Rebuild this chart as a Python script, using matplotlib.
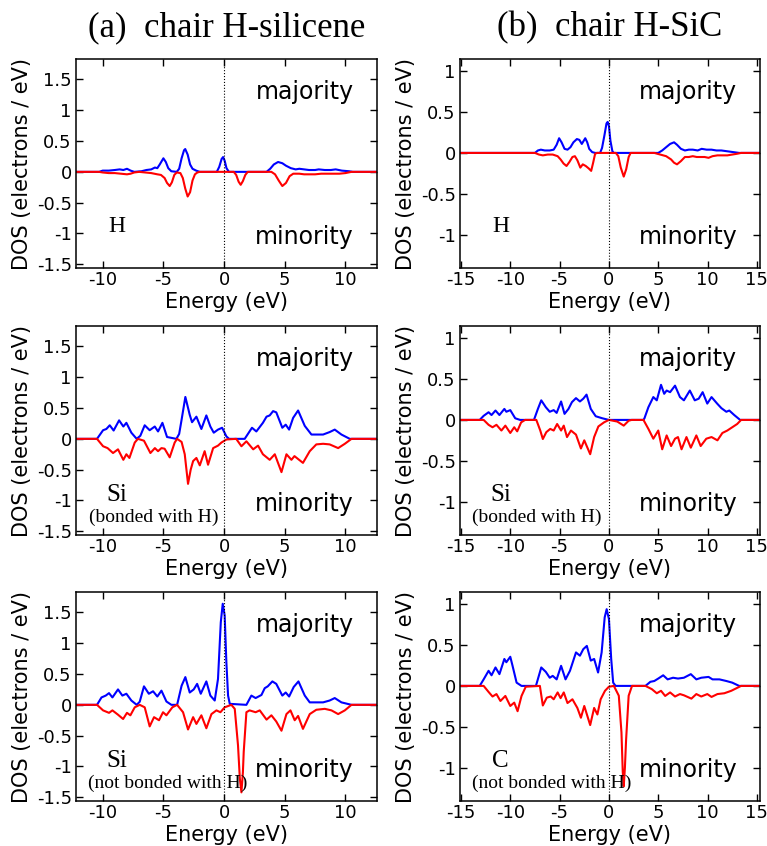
import matplotlib

matplotlib.use("Agg")
import matplotlib.pyplot as plt
from matplotlib.ticker import FormatStrFormatter

# ---- DOS data: (energy eV, DOS) points ----
# (a) chair H-silicene, H
sil_h_up = [(-12.2, 0), (-10.3, 0), (-10.0, 0.02), (-9.5, 0.02), (-9.0, 0.03), (-8.6, 0.04), (-8.3, 0.03),
            (-8.0, 0.05), (-7.7, 0.02), (-7.4, 0.0), (-6.8, 0.01), (-6.4, 0.03), (-6.0, 0.04), (-5.7, 0.07),
            (-5.5, 0.06), (-5.3, 0.12), (-5.0, 0.22), (-4.8, 0.16), (-4.6, 0.06), (-4.35, 0.01), (-3.9, 0.0),
            (-3.7, 0.05), (-3.5, 0.22), (-3.3, 0.35), (-3.2, 0.37), (-3.0, 0.28), (-2.8, 0.12), (-2.6, 0.05),
            (-2.3, 0.02), (-2.0, 0.0), (-0.6, 0.0), (-0.4, 0.08), (-0.2, 0.21), (-0.08, 0.24), (0.05, 0.18),
            (0.2, 0.06), (0.4, 0.0), (3.5, 0.0), (3.8, 0.05), (4.1, 0.12), (4.45, 0.16), (4.8, 0.14),
            (5.1, 0.10), (5.5, 0.06), (5.9, 0.04), (6.2, 0.05), (6.6, 0.04), (7.0, 0.03), (7.5, 0.03),
            (7.8, 0.04), (8.3, 0.03), (8.8, 0.03), (9.2, 0.04), (9.7, 0.02), (10.3, 0.01), (10.6, 0), (12.6, 0)]
sil_h_dn = [(-12.2, 0), (-10.3, 0), (-10.0, -0.01), (-9.5, -0.02), (-9.0, -0.02), (-8.5, -0.03), (-8.0, -0.04),
            (-7.7, -0.03), (-7.4, -0.01), (-7.0, 0.0), (-6.5, -0.01), (-6.0, -0.02), (-5.5, -0.04), (-5.2, -0.05),
            (-4.9, -0.10), (-4.7, -0.18), (-4.48, -0.23), (-4.3, -0.17), (-4.1, -0.05), (-3.9, -0.01),
            (-3.6, -0.02), (-3.4, -0.10), (-3.2, -0.27), (-3.0, -0.40), (-2.8, -0.33), (-2.6, -0.14),
            (-2.4, -0.04), (-2.2, -0.01), (-2.0, 0), (0.8, 0), (1.0, -0.05), (1.2, -0.16), (1.37, -0.21),
            (1.55, -0.15), (1.75, -0.05), (1.95, 0), (3.9, 0), (4.2, -0.04), (4.5, -0.14), (4.8, -0.23),
            (5.1, -0.18), (5.4, -0.07), (5.7, -0.03), (6.2, -0.03), (6.6, -0.04), (7.0, -0.04), (7.5, -0.04),
            (8.0, -0.03), (8.5, -0.03), (9.0, -0.03), (9.5, -0.03), (10.0, -0.02), (10.5, 0), (12.6, 0)]

# (b) chair H-SiC, H
sic_h_up = [(-15.3, 0), (-7.5, 0), (-7.2, 0.03), (-6.9, 0.04), (-6.5, 0.03), (-6.0, 0.03), (-5.6, 0.04),
            (-5.3, 0.10), (-5.05, 0.18), (-4.8, 0.13), (-4.5, 0.05), (-4.2, 0.04), (-3.9, 0.07), (-3.6, 0.13),
            (-3.25, 0.17), (-3.0, 0.16), (-2.75, 0.11), (-2.55, 0.15), (-2.4, 0.18), (-2.2, 0.13), (-2.0, 0.05),
            (-1.7, 0.01), (-1.4, 0.0), (-0.9, 0.0), (-0.7, 0.06), (-0.45, 0.22), (-0.25, 0.36), (-0.13, 0.38),
            (0.0, 0.33), (0.15, 0.15), (0.35, 0.02), (0.5, 0), (5.0, 0), (5.4, 0.03), (5.8, 0.07), (6.2, 0.11),
            (6.6, 0.13), (6.9, 0.10), (7.3, 0.05), (7.7, 0.03), (8.1, 0.04), (8.5, 0.04), (9.0, 0.03),
            (9.4, 0.05), (9.9, 0.04), (10.4, 0.04), (10.9, 0.03), (11.4, 0.03), (12.0, 0.02), (12.6, 0.01),
            (13.2, 0.0), (15.3, 0)]
sic_h_dn = [(-15.3, 0), (-7.5, 0), (-7.1, -0.02), (-6.7, -0.03), (-6.2, -0.02), (-5.7, -0.02), (-5.2, -0.04),
            (-4.9, -0.08), (-4.6, -0.13), (-4.3, -0.16), (-4.0, -0.11), (-3.7, -0.05), (-3.45, -0.04),
            (-3.2, -0.09), (-2.9, -0.18), (-2.65, -0.14), (-2.35, -0.16), (-2.05, -0.19), (-1.8, -0.22),
            (-1.6, -0.12), (-1.4, -0.01), (-1.2, 0), (0.7, 0), (0.95, -0.04), (1.2, -0.18), (1.5, -0.29),
            (1.75, -0.20), (2.0, -0.05), (2.2, 0), (4.6, 0), (5.2, -0.02), (5.8, -0.04), (6.3, -0.08),
            (6.6, -0.12), (6.9, -0.14), (7.3, -0.10), (7.7, -0.05), (8.1, -0.05), (8.5, -0.04), (8.9, -0.05),
            (9.3, -0.05), (9.7, -0.05), (10.1, -0.06), (10.5, -0.04), (11.0, -0.03), (11.5, -0.03),
            (12.0, -0.03), (12.5, -0.02), (13.0, -0.01), (13.4, 0), (15.3, 0)]

# (a) Si bonded with H
sil_si1_up = [(-12.2, 0), (-10.47, 0), (-9.97, 0.14), (-9.7, 0.16), (-9.42, 0.22), (-9.1, 0.135), (-8.65, 0.30),
              (-8.3, 0.20), (-8.05, 0.26), (-7.64, 0.10), (-7.2, 0), (-6.9, 0.05), (-6.54, 0.22), (-6.13, 0.14),
              (-5.71, 0.20), (-5.44, 0.12), (-5.08, 0.26), (-4.7, 0.03), (-3.93, 0), (-3.7, 0.08), (-3.5, 0.31),
              (-3.19, 0.68), (-2.83, 0.39), (-2.64, 0.27), (-2.28, 0.36), (-1.87, 0.16), (-1.46, 0.38),
              (-1.13, 0.20), (-0.85, 0.10), (-0.5, 0.15), (-0.16, 0.18), (0.19, 0.04), (0.41, 0), (1.7, 0),
              (2.0, 0.09), (2.3, 0.18), (2.66, 0.12), (3.2, 0.26), (3.5, 0.36), (3.76, 0.38), (4.04, 0.45),
              (4.3, 0.43), (4.8, 0.18), (5.08, 0.23), (5.36, 0.15), (5.69, 0.34), (6.1, 0.46), (6.65, 0.21),
              (7.2, 0.07), (8.16, 0.07), (8.7, 0.11), (9.12, 0.15), (9.67, 0.07), (10.36, 0), (12.6, 0)]
sil_si1_dn = [(-12.2, 0), (-10.47, 0), (-9.97, -0.12), (-9.6, -0.15), (-9.15, -0.23), (-8.74, -0.17),
              (-8.3, -0.34), (-8.05, -0.25), (-7.8, -0.31), (-7.36, -0.06), (-7.1, 0), (-6.6, -0.03),
              (-6.07, -0.23), (-5.7, -0.15), (-5.44, -0.20), (-5.16, -0.15), (-4.9, -0.16), (-4.48, -0.30),
              (-4.07, -0.06), (-3.87, 0), (-3.5, -0.05), (-3.24, -0.25), (-2.97, -0.73), (-2.75, -0.50),
              (-2.55, -0.36), (-2.28, -0.31), (-2.0, -0.43), (-1.6, -0.20), (-1.32, -0.42), (-0.9, -0.15),
              (-0.5, -0.11), (-0.22, -0.06), (0.2, -0.01), (1.0, 0), (1.43, -0.12), (1.84, -0.04),
              (2.4, -0.17), (2.8, -0.11), (3.2, -0.25), (3.76, -0.34), (4.18, -0.25), (4.73, -0.54),
              (5.14, -0.25), (5.55, -0.34), (5.8, -0.28), (6.5, -0.39), (7.06, -0.20), (7.6, -0.09),
              (8.16, -0.08), (8.7, -0.09), (9.4, -0.15), (9.95, -0.08), (10.5, 0), (12.6, 0)]

# (b) Si bonded with H
sic_si_up = [(-15.3, 0), (-13.1, 0), (-12.7, 0.05), (-12.2, 0.094), (-11.9, 0.06), (-11.5, 0.115), (-11.1, 0.06),
             (-10.6, 0.135), (-10.4, 0.10), (-10.0, 0.12), (-9.5, 0.02), (-9.0, 0), (-7.6, 0), (-7.2, 0.135),
             (-6.86, 0.24), (-6.4, 0.156), (-6.0, 0.10), (-5.6, 0.12), (-5.3, 0.086), (-4.85, 0.226),
             (-4.5, 0.074), (-4.1, 0.135), (-3.75, 0.218), (-3.34, 0.267), (-2.94, 0.226), (-2.6, 0.26),
             (-2.27, 0.31), (-1.84, 0.135), (-1.34, 0.045), (-0.67, 0.02), (0, 0), (3.5, 0), (3.6, 0.02),
             (4.0, 0.156), (4.5, 0.28), (4.85, 0.24), (5.28, 0.43), (5.6, 0.32), (5.85, 0.36), (6.2, 0.34),
             (6.7, 0.42), (7.2, 0.28), (7.6, 0.24), (8.2, 0.36), (8.7, 0.24), (9.1, 0.26), (9.5, 0.34),
             (9.97, 0.20), (10.4, 0.28), (10.97, 0.20), (11.4, 0.144), (11.9, 0.10), (12.2, 0.115),
             (12.7, 0.06), (13.3, 0), (15.3, 0)]
sic_si_dn = [(-15.3, 0), (-12.7, 0), (-12.2, -0.06), (-11.8, -0.09), (-11.4, -0.06), (-10.9, -0.13),
             (-10.5, -0.07), (-10.0, -0.16), (-9.6, -0.09), (-9.3, -0.14), (-8.9, -0.03), (-8.5, 0),
             (-7.36, 0), (-6.96, -0.13), (-6.7, -0.234), (-6.35, -0.15), (-5.95, -0.11), (-5.6, -0.13),
             (-5.25, -0.05), (-4.85, -0.13), (-4.58, -0.07), (-4.25, -0.21), (-3.85, -0.13), (-3.34, -0.18),
             (-2.84, -0.35), (-2.5, -0.25), (-1.9, -0.42), (-1.5, -0.21), (-1.07, -0.08), (-0.5, -0.03),
             (0, 0), (0.84, -0.02), (1.5, -0.07), (2.0, -0.01), (2.3, 0), (3.5, 0), (4.0, -0.11), (4.5, -0.23),
             (5.0, -0.13), (5.4, -0.36), (5.85, -0.19), (6.3, -0.32), (6.7, -0.23), (7.0, -0.21),
             (7.36, -0.36), (7.86, -0.21), (8.3, -0.34), (8.86, -0.19), (9.3, -0.32), (9.87, -0.23),
             (10.4, -0.21), (11.0, -0.25), (11.5, -0.16), (12.0, -0.13), (12.5, -0.09), (13.0, -0.05),
             (13.4, 0), (15.3, 0)]

# (a) Si not bonded with H
sil_si2_up = [(-12.2, 0), (-10.47, 0), (-10.1, 0.12), (-9.75, 0.15), (-9.48, 0.19), (-9.2, 0.12), (-8.74, 0.25),
              (-8.38, 0.15), (-8.05, 0.18), (-7.64, 0.07), (-7.2, 0), (-6.95, 0.05), (-6.6, 0.30), (-6.2, 0.18),
              (-5.85, 0.22), (-5.5, 0.135), (-5.16, 0.23), (-4.75, 0.054), (-4.34, 0), (-3.87, 0), (-3.5, 0.31),
              (-3.19, 0.45), (-2.83, 0.20), (-2.5, 0.25), (-2.22, 0.34), (-1.92, 0.18), (-1.46, 0.38),
              (-1.13, 0.15), (-0.77, 0.07), (-0.5, 0.42), (-0.27, 1.34), (-0.11, 1.64), (0.05, 1.45),
              (0.19, 0.69), (0.33, 0.15), (0.47, 0.016), (1.84, 0), (2.25, 0.15), (2.6, 0.11), (3.08, 0.16),
              (3.35, 0.27), (3.6, 0.30), (3.98, 0.38), (4.3, 0.34), (4.8, 0.15), (5.08, 0.20), (5.36, 0.135),
              (5.74, 0.29), (6.13, 0.38), (6.65, 0.15), (7.06, 0.04), (8.16, 0.04), (8.7, 0.07), (9.12, 0.11),
              (9.67, 0.04), (10.5, 0), (12.6, 0)]
sil_si2_dn = [(-12.2, 0), (-10.47, 0), (-9.97, -0.09), (-9.48, -0.13), (-9.2, -0.09), (-8.74, -0.16),
              (-8.32, -0.23), (-8.0, -0.13), (-7.72, -0.17), (-7.36, -0.04), (-6.95, 0), (-6.54, -0.04),
              (-6.13, -0.35), (-5.77, -0.20), (-5.36, -0.25), (-5.03, -0.12), (-4.75, -0.17), (-4.26, -0.04),
              (-3.87, 0), (-3.38, -0.12), (-2.97, -0.40), (-2.55, -0.20), (-2.28, -0.31), (-1.87, -0.17),
              (-1.46, -0.38), (-1.04, -0.15), (-0.63, -0.09), (-0.3, -0.12), (0.05, -0.04), (0.6, 0),
              (0.88, -0.065), (1.15, -0.66), (1.3, -1.2), (1.43, -1.42), (1.55, -1.1), (1.62, -0.76),
              (1.84, -0.12), (2.1, -0.09), (2.6, -0.12), (2.94, -0.09), (3.5, -0.24), (3.9, -0.17),
              (4.3, -0.27), (4.73, -0.42), (5.14, -0.15), (5.47, -0.09), (5.82, -0.25), (6.1, -0.18),
              (6.5, -0.39), (7.06, -0.15), (7.6, -0.08), (8.3, -0.065), (8.85, -0.09), (9.4, -0.15),
              (9.95, -0.09), (10.5, 0), (12.6, 0)]

# (b) C not bonded with H
sic_c_up = [(-15.3, 0), (-13.1, 0), (-12.7, 0.08), (-12.2, 0.185), (-11.9, 0.13), (-11.5, 0.226), (-11.1, 0.144),
            (-10.6, 0.33), (-10.4, 0.29), (-10.0, 0.357), (-9.77, 0.246), (-9.36, 0.04), (-8.86, 0), (-7.4, 0),
            (-6.86, 0.226), (-6.4, 0.172), (-6.0, 0.10), (-5.7, 0.123), (-5.3, 0.08), (-4.85, 0.246),
            (-4.4, 0.08), (-3.95, 0.185), (-3.34, 0.41), (-2.94, 0.37), (-2.6, 0.45), (-2.24, 0.49),
            (-1.84, 0.31), (-1.5, 0.33), (-1.1, 0.164), (-0.74, 0.41), (-0.43, 0.84), (-0.23, 0.94),
            (0.0, 0.82), (0.23, 0.33), (0.43, 0.04), (0.67, 0), (3.7, 0), (4.2, 0.05), (4.6, 0.06), (5.0, 0.09),
            (5.5, 0.13), (5.95, 0.08), (6.5, 0.10), (7.0, 0.09), (7.6, 0.10), (8.3, 0.144), (8.86, 0.08),
            (9.36, 0.10), (10.1, 0.11), (10.5, 0.08), (11.2, 0.08), (11.9, 0.06), (12.5, 0.04), (13.2, 0),
            (15.3, 0)]
sic_c_dn = [(-15.3, 0), (-12.7, 0), (-12.2, -0.074), (-11.8, -0.13), (-11.4, -0.10), (-11.0, -0.185),
            (-10.5, -0.123), (-10.0, -0.246), (-9.6, -0.205), (-9.26, -0.31), (-8.86, -0.123), (-8.43, -0.01),
            (-7.0, 0), (-6.7, -0.24), (-6.3, -0.144), (-5.9, -0.13), (-5.6, -0.164), (-5.2, -0.08),
            (-4.9, -0.15), (-4.58, -0.08), (-4.2, -0.21), (-3.7, -0.164), (-3.2, -0.27), (-2.84, -0.39),
            (-2.5, -0.246), (-1.9, -0.48), (-1.5, -0.27), (-1.17, -0.35), (-0.84, -0.164), (-0.4, -0.06),
            (0, -0.01), (0.5, 0), (1.0, -0.12), (1.27, -0.57), (1.4, -1.05), (1.5, -1.23), (1.62, -1.0),
            (1.74, -0.66), (2.0, -0.12), (2.34, 0), (3.7, 0), (4.35, -0.04), (4.85, -0.09), (5.28, -0.06),
            (5.7, -0.123), (6.2, -0.08), (6.7, -0.13), (7.2, -0.10), (7.6, -0.115), (8.36, -0.156),
            (8.86, -0.10), (9.36, -0.13), (9.97, -0.10), (10.4, -0.135), (11.0, -0.10), (11.7, -0.09),
            (12.4, -0.06), (12.9, -0.03), (13.4, 0), (15.3, 0)]

titles = ["(a)  chair H-silicene", "(b)  chair H-SiC"]
site_labels = [("H", None), ("H", None),
               ("Si", "(bonded with H)"), ("Si", "(bonded with H)"),
               ("Si", "(not bonded with H)"), ("C", "(not bonded with H)")]
left_xticks = [-10, -5, 0, 5, 10]
right_xticks = [-15, -10, -5, 0, 5, 10, 15]
left_yticks = [-1.5, -1, -0.5, 0, 0.5, 1, 1.5]
right_yticks = [-1, -0.5, 0, 0.5, 1]

panels = [(sil_h_up, sil_h_dn), (sic_h_up, sic_h_dn),
          (sil_si1_up, sil_si1_dn), (sic_si_up, sic_si_dn),
          (sil_si2_up, sil_si2_dn), (sic_c_up, sic_c_dn)]

plt.rcParams["axes.unicode_minus"] = False
plt.rcParams["font.family"] = "DejaVu Sans"
SERIF = "Liberation Serif"

fig = plt.figure(figsize=(7.67, 8.46), dpi=100)

col_x = [(0.0991, 0.3924), (0.5997, 0.391)]
row_y = [0.6832, 0.3676, 0.0532]
h = 0.247

for i, (up, dn) in enumerate(panels):
    row, col = divmod(i, 2)
    left, width = col_x[col]
    ax = fig.add_axes([left, row_y[row], width, h])

    ex, dy = zip(*up)
    ax.plot(ex, dy, color="#0000ff", lw=1.5)
    ex, dy = zip(*dn)
    ax.plot(ex, dy, color="#ff0000", lw=1.5)
    ax.axvline(0, color="black", lw=0.8, ls=":")

    if col == 0:
        ax.set_xlim(-12.2, 12.6)
        ax.set_ylim(-1.56, 1.83)
        ax.set_xticks(left_xticks)
        ax.set_yticks(left_yticks)
    else:
        ax.set_xlim(-15.1, 15.3)
        ax.set_ylim(-1.41, 1.15)
        ax.set_xticks(right_xticks)
        ax.set_yticks(right_yticks)
    ax.yaxis.set_major_formatter(FormatStrFormatter("%g"))
    ax.tick_params(direction="in", top=True, right=True, length=5, width=1,
                   labelsize=13, pad=3)
    ax.tick_params(axis="x", pad=2)
    for sp in ax.spines.values():
        sp.set_linewidth(1.1)

    ax.text(-0.18, 0.5, "DOS (electrons / eV)", rotation=90, ha="center", va="center",
            fontsize=15, transform=ax.transAxes)
    ax.text(0.5, -0.163, "Energy (eV)", ha="center", va="center", fontsize=15,
            transform=ax.transAxes)
    ax.text(0.76, 0.84, "majority", ha="center", va="center", fontsize=17, transform=ax.transAxes)
    ax.text(0.76, 0.15, "minority", ha="center", va="center", fontsize=17, transform=ax.transAxes)

    main, sub = site_labels[i]
    if sub is None:
        ax.text(0.135, 0.198, main, ha="center", va="center", fontsize=17, family=SERIF,
                transform=ax.transAxes)
    else:
        ax.text(0.135, 0.19, main, ha="center", va="center", fontsize=18, family=SERIF,
                transform=ax.transAxes)
        sub_x = 0.257 if "not" not in sub else 0.305
        ax.text(sub_x, 0.085, sub, ha="center", va="center", fontsize=14, family=SERIF,
                transform=ax.transAxes)

fig.text(0.2953, 0.967, titles[0], ha="center", va="center", fontsize=25, family=SERIF)
fig.text(0.795, 0.967, titles[1], ha="center", va="center", fontsize=25, family=SERIF)

fig.savefig("out.png", dpi=100)
